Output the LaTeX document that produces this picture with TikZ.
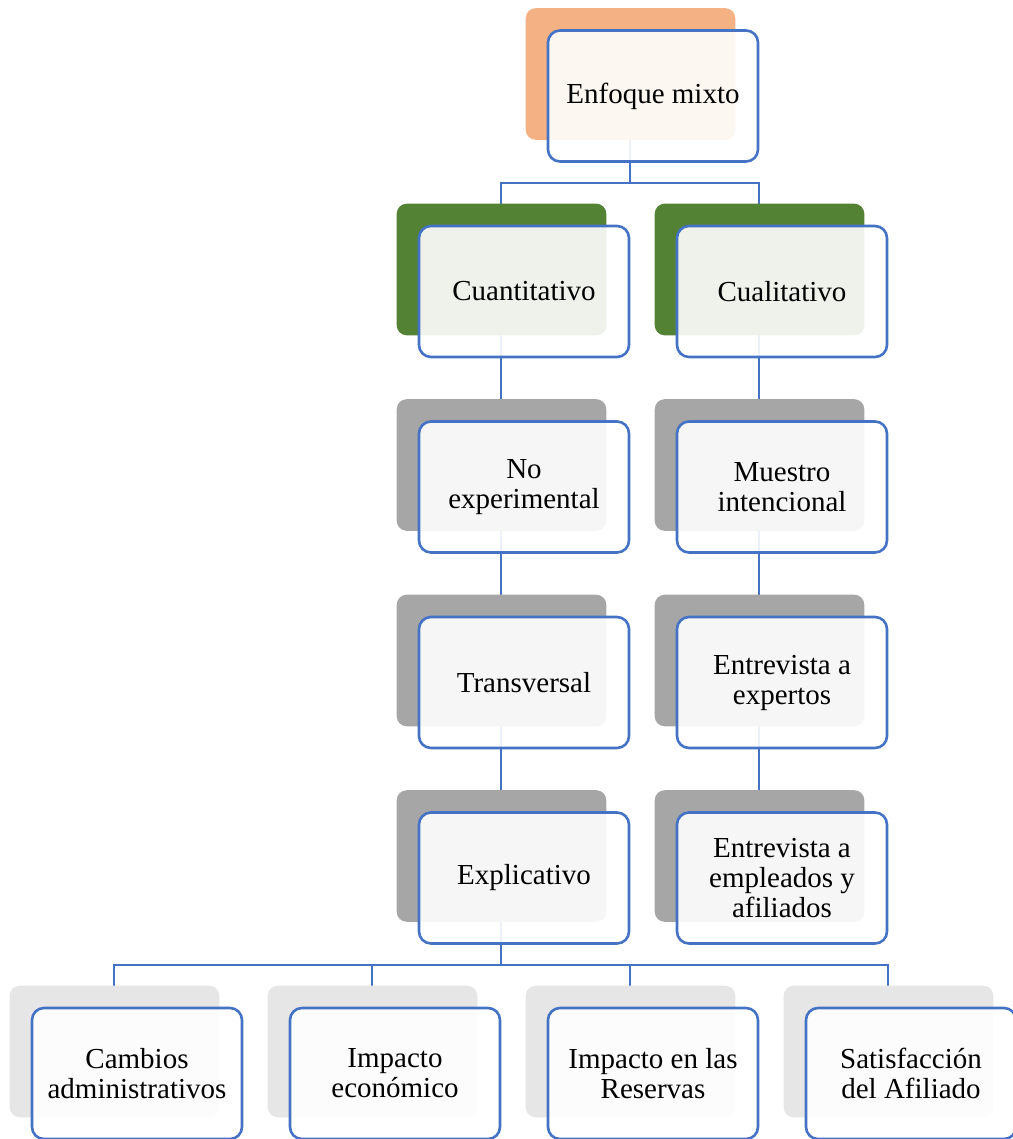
\documentclass[tikz,border=0pt]{standalone}
\usepackage{fontspec}
\setmainfont{Liberation Serif}
\usetikzlibrary{positioning}

\definecolor{lineblue}{HTML}{4472C4}
\definecolor{orangeback}{HTML}{F4B183}
\definecolor{greenback}{HTML}{548235}
\definecolor{grayback}{HTML}{A6A6A6}
\definecolor{lightback}{HTML}{E7E6E6}

\pgfdeclarelayer{background}
\pgfdeclarelayer{middle}
\pgfsetlayers{background,middle,main}

\tikzset{
  front/.style={draw=lineblue, line width=2.6pt, rounded corners=12pt,
    fill=white, fill opacity=0.9, text opacity=1,
    minimum width=210pt, minimum height=131pt, align=center,
    font=\fontsize{29}{30}\selectfont},
  backbox/.style={rounded corners=10pt},
  conn/.style={draw=lineblue, line width=2.5pt},
}

\begin{document}
\begin{tikzpicture}[x=1pt, y=-1pt]
  \useasboundingbox (0,0) rectangle (1012,1139);

  \node[front] (mixto) at (653,96) {Enfoque mixto}
    [level distance=195.5pt, sibling distance=258pt,
     edge from parent/.style={draw=none}]
    child { node[front] (cuanti) {Cuantitativo}
      child { node[front] (noexp) {No\\experimental}
        child { node[front] (trans) {Transversal}
          child { node[front] (explic) {Explicativo}
            child { node[front] (cambios) {Cambios\\administrativos} }
            child { node[front] (economico) {Impacto\\económico} }
            child { node[front] (reservas) {Impacto en las\\Reservas} }
            child { node[front] (afiliado) {Satisfacción\\del Afiliado} }
          }
        }
      }
    }
    child { node[front] (cuali) {Cualitativo}
      child { node[front] (muestro) {Muestro\\intencional}
        child { node[front] (expertos) {Entrevista a\\expertos}
          child { node[front] (empleados) {Entrevista a\\empleados y\\afiliados} }
        }
      }
    };

  % coloured boxes behind
  \begin{pgfonlayer}{middle}
    \foreach \n/\c in {mixto/orangeback, cuanti/greenback, cuali/greenback,
        noexp/grayback, trans/grayback, explic/grayback,
        muestro/grayback, expertos/grayback, empleados/grayback,
        cambios/lightback, economico/lightback, reservas/lightback, afiliado/lightback}
      \fill[backbox, \c] ([shift={(-21,-21)}]\n.north west) rectangle ([shift={(-24,-23)}]\n.south east);
  \end{pgfonlayer}

  % connectors
  \begin{pgfonlayer}{background}
    \foreach \a/\b in {mixto/cuanti, mixto/cuali,
        explic/cambios, explic/economico, explic/reservas, explic/afiliado}
      \draw[conn] ([xshift=-23pt]\a.center) -- ([xshift=-23pt]\a.south) -- ++(0,20) -| ([xshift=-23pt]\b.center);
    \foreach \a/\b in {cuanti/noexp, noexp/trans, trans/explic,
        cuali/muestro, muestro/expertos, expertos/empleados}
      \draw[conn] ([xshift=-23pt]\a.center) -- ([xshift=-23pt]\b.center);
  \end{pgfonlayer}
\end{tikzpicture}
\end{document}
